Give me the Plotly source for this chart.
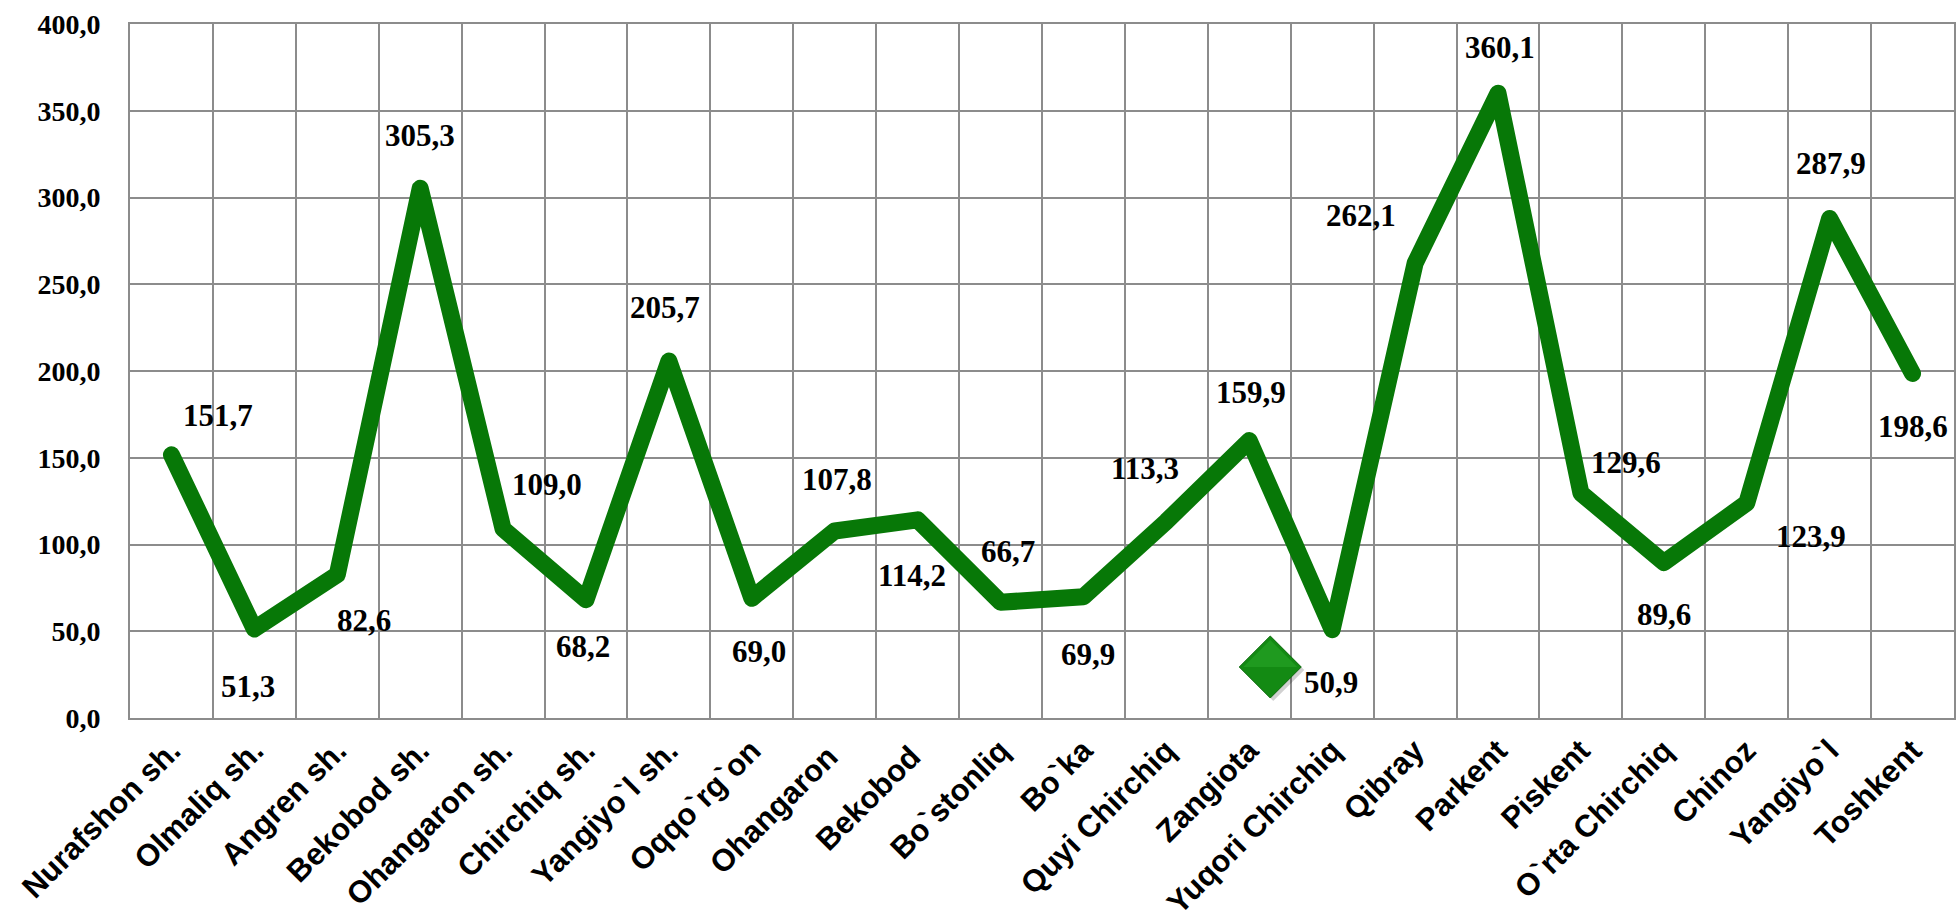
import plotly.graph_objects as go

categories = ["Nurafshon sh.", "Olmaliq sh.", "Angren sh.", "Bekobod sh.", "Ohangaron sh.",
              "Chirchiq sh.", "Yangiyo`l sh.", "Oqqo`rg`on", "Ohangaron ", "Bekobod ",
              "Bo`stonliq", "Bo`ka", "Quyi Chirchiq", "Zangiota", "Yuqori Chirchiq",
              "Qibray", "Parkent", "Piskent", "O`rta Chirchiq", "Chinoz", "Yangiyo`l", "Toshkent"]
values = [151.7, 51.3, 82.6, 305.3, 109.0, 68.2, 205.7, 69.0, 107.8, 114.2, 66.7,
          69.9, 113.3, 159.9, 50.9, 262.1, 360.1, 129.6, 89.6, 123.9, 287.9, 198.6]
y_ticks = [0, 50, 100, 150, 200, 250, 300, 350, 400]

# label offsets in pixels (dx right, dy down) relative to each point
label_dx = [47, -6, 27, 0, 44, -3, -4, 7, 2, -6, 7, 5, -21, 2, -1, -54, 2, 45, 0, 64, 1, 0]
label_dy = [-39, 58, 46, -53, -44, 47, -54, 53, -51, 56, -51, 58, -53, -48, 53, -48, -46, -31, 52, 33, -55, 53]

LINE_GREEN = "#077807"
GRID = "#8c8c8c"
SERIF = "Liberation Serif, Times New Roman, serif"
SANS = "Liberation Sans, Arial, sans-serif"

fig = go.Figure()
fig.add_trace(go.Scatter(
    x=categories, y=values, mode="lines",
    line=dict(color=LINE_GREEN, width=17),
    showlegend=False, hoverinfo="skip",
))

for c, v, dx, dy in zip(categories, values, label_dx, label_dy):
    fig.add_annotation(
        x=c, y=v, text=f"{v:.1f}".replace(".", ","), showarrow=False,
        xanchor="center", yanchor="middle", xshift=dx, yshift=-dy,
        font=dict(family=SERIF, size=31, color="black", weight="bold"),
    )

# stray green diamond decoration near Yuqori Chirchiq label
anchor_idx = categories.index("Zangiota")
fig.add_shape(
    type="path", xref="x", yref="y", xsizemode="pixel", ysizemode="pixel",
    xanchor=anchor_idx, yanchor=0,
    path="M -7,48 L 24,79 L 55,48 L 24,17 Z",
    fillcolor="rgba(0,0,0,0.18)", line=dict(width=0), layer="above",
)
fig.add_shape(
    type="path", xref="x", yref="y", xsizemode="pixel", ysizemode="pixel",
    xanchor=anchor_idx, yanchor=0,
    path="M -10,51 L 21,82 L 52,51 L 21,20 Z",
    fillcolor="#138a13", line=dict(color="#0b6a0b", width=1), layer="above",
)
fig.add_shape(
    type="path", xref="x", yref="y", xsizemode="pixel", ysizemode="pixel",
    xanchor=anchor_idx, yanchor=0,
    path="M -6,51 L 21,78 L 48,51 Z",
    fillcolor="#1f9a1f", line=dict(width=0), layer="above",
)

fig.update_layout(
    width=1957, height=922,
    margin=dict(l=130, r=1, t=24, b=204),
    plot_bgcolor="white", paper_bgcolor="white",
    separators=", ",
    showlegend=False,
)
fig.update_xaxes(
    type="category", tickson="boundaries", showgrid=True, gridcolor=GRID, gridwidth=2,
    showline=True, linecolor=GRID, linewidth=2, mirror=True,
    tickangle=-45, ticks="",
    tickfont=dict(family=SANS, size=31, color="black", weight="bold"),
    range=[-0.5, len(categories) - 0.5],
)
fig.update_yaxes(
    range=[0, 400], tickvals=y_ticks, tickformat=".1f",
    showgrid=True, gridcolor=GRID, gridwidth=2,
    showline=True, linecolor=GRID, linewidth=2, mirror=True, zeroline=False,
    ticks="", ticklabelstandoff=22,
    tickfont=dict(family=SERIF, size=28, color="black", weight="bold"),
)

post = (
    "document.body.style.margin='0px';"
    "document.querySelectorAll('.scatterlayer .js-line').forEach(function(p){"
    "p.style.strokeLinejoin='round';p.style.strokeLinecap='round';});"
)
fig.write_html("out.html", post_script=post, config={"displayModeBar": False})
